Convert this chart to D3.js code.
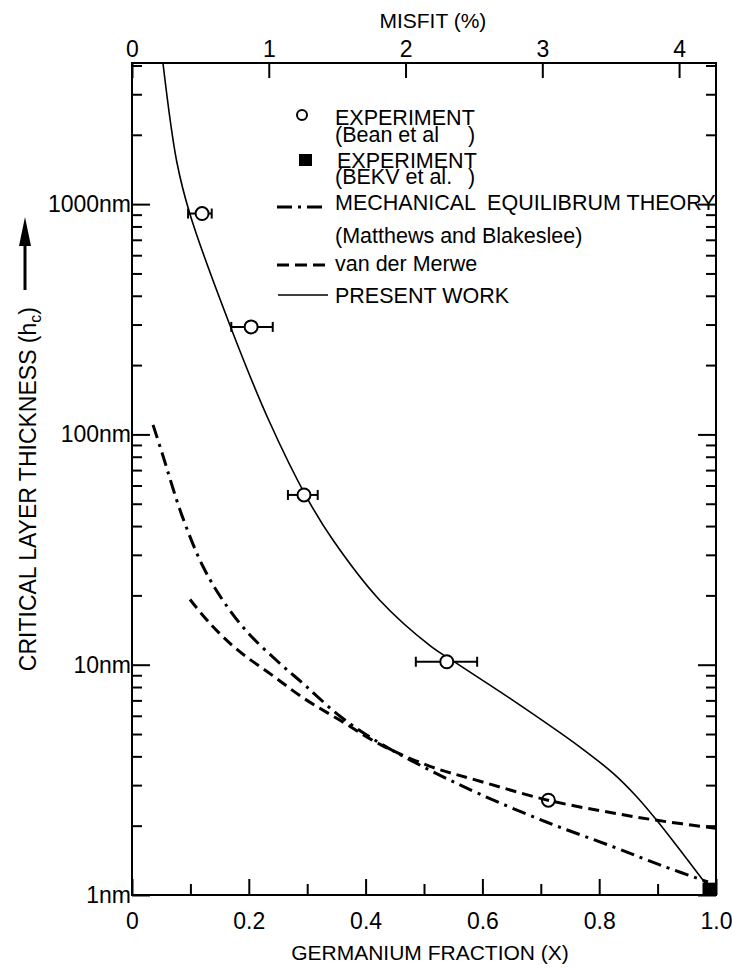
<!DOCTYPE html>
<html>
<head>
<meta charset="utf-8">
<script src="https://cdn.jsdelivr.net/npm/d3@7"></script>
<style>
  body { margin: 0; background: #fff; }
  svg text { font-family: "Liberation Sans", Arial, sans-serif; fill: #000; }
</style>
</head>
<body>
<div id="chart"></div>
<script>
/* CONSTANTS AND GLOBALS */
const width = 732,
  height = 969,
  margin = { top: 63, bottom: 74, left: 132, right: 16 };

/* DATA */
// axis ticks
const xTickValues = [0, 0.2, 0.4, 0.6, 0.8, 1.0];
const xTickLabels = ["0", "0.2", "0.4", "0.6", "0.8", "1.0"];
const xMinorTicks = [0.1, 0.3, 0.5, 0.7, 0.9];
const misfitTicks = [0, 1, 2, 3, 4];
const yTickValues = [1, 10, 100, 1000];
const yTickLabels = ["1nm", "10nm", "100nm", "1000nm"];

// present work (solid line)
const presentX = [0.053, 0.0765, 0.0993, 0.1695, 0.2346, 0.2991, 0.3447, 0.4247, 0.5103, 0.556, 0.6524, 0.7671, 0.8236, 0.8642, 0.8985, 0.9384, 0.9863];
const presentY = [4100, 1535, 904, 290, 114.6, 53.3, 34.6, 19.0, 12.1, 10.13, 7.0, 4.39, 3.38, 2.67, 2.11, 1.567, 1.086];

// mechanical equilibrium theory, Matthews and Blakeslee (dash-dot)
const matthewsX = [0.036, 0.0514, 0.0856, 0.1216, 0.1558, 0.1969, 0.25, 0.2945, 0.3562, 0.4247, 0.5103, 0.5959, 0.7106, 0.8236, 0.9092, 0.9863];
const matthewsY = [110, 83.2, 44.4, 26.7, 19.0, 13.9, 10.3, 8.22, 5.97, 4.56, 3.48, 2.74, 2.07, 1.62, 1.336, 1.139];

// van der Merwe (dashed)
const merweX = [0.0993, 0.1336, 0.1798, 0.238, 0.2945, 0.3562, 0.4247, 0.5103, 0.5959, 0.7123, 0.8236, 0.899, 1.0];
const merweY = [19.19, 15.1, 11.65, 9.08, 7.14, 5.74, 4.51, 3.62, 3.12, 2.58, 2.27, 2.11, 1.95];

// experiment (Bean et al) with x error bars
const beanX = [0.120, 0.204, 0.2945, 0.539, 0.713];
const beanY = [910, 293, 54.6, 10.3, 2.58];
const beanXLow = [0.096, 0.170, 0.267, 0.486, null];
const beanXHigh = [0.1365, 0.241, 0.318, 0.591, null];

// experiment (BEKV et al.)
const bekvX = [0.988];
const bekvY = [1.06];

/* SCALES */
const xScale = d3.scaleLinear().domain([0, 1]).range([margin.left, width - margin.right]);
const yScale = d3.scaleLog().domain([1, 4100]).range([height - margin.bottom, margin.top]);
const misfitScale = d3.scaleLinear().domain([0, 4.27]).range([margin.left, width - margin.right]);

const yMinorTicks = [];
[1, 10, 100, 1000].forEach(dec => {
  for (let k = 2; k <= 9; k++) if (dec * k <= 4100) yMinorTicks.push(dec * k);
});

const svg = d3.select("#chart")
  .append("svg")
  .attr("width", width)
  .attr("height", height);

/* AXES */
const fontTick = "23px";
const fontTitle = "21px";

// bottom
svg.append("g")
  .attr("transform", `translate(0,${height - margin.bottom})`)
  .call(d3.axisBottom(xScale).tickValues(xTickValues).tickSize(-16).tickPadding(18)
    .tickFormat((d, i) => xTickLabels[i]))
  .call(g => g.select(".domain").remove())
  .call(g => g.selectAll("text").style("font-size", fontTick));
svg.append("g")
  .attr("transform", `translate(0,${height - margin.bottom})`)
  .call(d3.axisBottom(xScale).tickValues(xMinorTicks).tickSize(-11).tickFormat(""))
  .call(g => g.select(".domain").remove());

// top (misfit)
svg.append("g")
  .attr("transform", `translate(0,${margin.top})`)
  .call(d3.axisTop(misfitScale).tickValues(misfitTicks).tickSize(-15).tickPadding(6)
    .tickFormat(d3.format("d")))
  .call(g => g.select(".domain").remove())
  .call(g => g.selectAll("text").style("font-size", fontTick));

// left
svg.append("g")
  .attr("transform", `translate(${margin.left},0)`)
  .call(d3.axisLeft(yScale).tickValues(yTickValues).tickSize(-18).tickPadding(1)
    .tickFormat((d, i) => yTickLabels[i]))
  .call(g => g.select(".domain").remove())
  .call(g => g.selectAll("text").style("font-size", fontTick));
svg.append("g")
  .attr("transform", `translate(${margin.left},0)`)
  .call(d3.axisLeft(yScale).tickValues(yMinorTicks).tickSize(-10).tickFormat(""))
  .call(g => g.select(".domain").remove());

// right
svg.append("g")
  .attr("transform", `translate(${width - margin.right},0)`)
  .call(d3.axisRight(yScale).tickValues(yTickValues).tickSize(-18).tickFormat(""))
  .call(g => g.select(".domain").remove());
svg.append("g")
  .attr("transform", `translate(${width - margin.right},0)`)
  .call(d3.axisRight(yScale).tickValues(yMinorTicks).tickSize(-10).tickFormat(""))
  .call(g => g.select(".domain").remove());

svg.selectAll(".tick line").attr("stroke", "#000").attr("stroke-width", 2);

// frame
svg.append("rect")
  .attr("x", margin.left)
  .attr("y", margin.top)
  .attr("width", width - margin.left - margin.right)
  .attr("height", height - margin.top - margin.bottom)
  .attr("fill", "none")
  .attr("stroke", "#000")
  .attr("stroke-width", 2);

// axis titles
svg.append("text")
  .attr("x", misfitScale(2.2))
  .attr("y", 28)
  .attr("text-anchor", "middle")
  .style("font-size", fontTitle)
  .text("MISFIT (%)");

svg.append("text")
  .attr("x", xScale(0.5) + 6)
  .attr("y", 960)
  .attr("text-anchor", "middle")
  .style("font-size", fontTitle)
  .text("GERMANIUM FRACTION (X)");

const yTitle = svg.append("text")
  .attr("transform", "translate(36,307) rotate(-90)")
  .attr("text-anchor", "end")
  .style("font-size", "23px");
yTitle.append("tspan").text("CRITICAL LAYER THICKNESS (h");
yTitle.append("tspan").attr("dy", 5).style("font-size", "16px").text("c");
yTitle.append("tspan").attr("dy", -5).text(")");

// arrow next to y title
svg.append("line")
  .attr("x1", 25).attr("x2", 25)
  .attr("y1", 290).attr("y2", 240)
  .attr("stroke", "#000").attr("stroke-width", 3);
svg.append("path")
  .attr("d", "M25,217 L19,246 L31,246 Z")
  .attr("fill", "#000");

/* CURVES */
svg.append("clipPath").attr("id", "plot-clip")
  .append("rect")
  .attr("x", margin.left).attr("y", margin.top)
  .attr("width", width - margin.left - margin.right)
  .attr("height", height - margin.top - margin.bottom);

const line = d3.line()
  .x(d => xScale(d[0]))
  .y(d => yScale(d[1]))
  .curve(d3.curveCatmullRom.alpha(0.5));

const plot = svg.append("g").attr("clip-path", "url(#plot-clip)");

plot.append("path")
  .attr("d", line(d3.zip(presentX, presentY)))
  .attr("fill", "none")
  .attr("stroke", "#000")
  .attr("stroke-width", 1.6);

// error bars
const bars = plot.selectAll("g.err")
  .data(d3.range(beanX.length).filter(i => beanXLow[i] !== null))
  .join("g")
  .attr("class", "err")
  .attr("stroke", "#000")
  .attr("stroke-width", 2);
bars.append("line")
  .attr("x1", i => xScale(beanXLow[i])).attr("x2", i => xScale(beanXHigh[i]))
  .attr("y1", i => yScale(beanY[i])).attr("y2", i => yScale(beanY[i]));
bars.append("line")
  .attr("x1", i => xScale(beanXLow[i])).attr("x2", i => xScale(beanXLow[i]))
  .attr("y1", i => yScale(beanY[i]) - 5).attr("y2", i => yScale(beanY[i]) + 5);
bars.append("line")
  .attr("x1", i => xScale(beanXHigh[i])).attr("x2", i => xScale(beanXHigh[i]))
  .attr("y1", i => yScale(beanY[i]) - 5).attr("y2", i => yScale(beanY[i]) + 5);

plot.selectAll("circle.bean")
  .data(d3.zip(beanX, beanY))
  .join("circle")
  .attr("class", "bean")
  .attr("cx", d => xScale(d[0]))
  .attr("cy", d => yScale(d[1]))
  .attr("r", 6.5)
  .attr("fill", "#fff")
  .attr("stroke", "#000")
  .attr("stroke-width", 2);

plot.append("path")
  .attr("d", line(d3.zip(matthewsX, matthewsY)))
  .attr("fill", "none")
  .attr("stroke", "#000")
  .attr("stroke-width", 3)
  .attr("stroke-dasharray", "14,6,3,6");

plot.append("path")
  .attr("d", line(d3.zip(merweX, merweY)))
  .attr("fill", "none")
  .attr("stroke", "#000")
  .attr("stroke-width", 3)
  .attr("stroke-dasharray", "11,6");

svg.selectAll("rect.bekv")
  .data(d3.zip(bekvX, bekvY))
  .join("rect")
  .attr("class", "bekv")
  .attr("x", d => xScale(d[0]) - 6.5)
  .attr("y", d => yScale(d[1]) - 6.5)
  .attr("width", 13)
  .attr("height", 13)
  .attr("fill", "#000");

/* LEGEND */
const lg = svg.append("g").style("font-size", "21.5px");
const textX = 335;

lg.append("circle")
  .attr("cx", 302).attr("cy", 115).attr("r", 5)
  .attr("fill", "#fff").attr("stroke", "#000").attr("stroke-width", 2);
lg.append("text").attr("x", textX).attr("y", 125).text("EXPERIMENT");
lg.append("text").attr("x", textX).attr("y", 142).text("(Bean et al");
lg.append("text").attr("x", 468).attr("y", 142).text(")");

lg.append("rect")
  .attr("x", 299).attr("y", 154).attr("width", 13).attr("height", 12)
  .attr("fill", "#000");
lg.append("text").attr("x", textX + 2).attr("y", 168).text("EXPERIMENT");
lg.append("text").attr("x", textX).attr("y", 184).text("(BEKV et al.");
lg.append("text").attr("x", 468).attr("y", 184).text(")");

lg.append("line")
  .attr("x1", 277).attr("x2", 323).attr("y1", 207).attr("y2", 207)
  .attr("stroke", "#000").attr("stroke-width", 3)
  .attr("stroke-dasharray", "15,6,3,6");
lg.append("text").attr("x", textX).attr("y", 210)
  .attr("xml:space", "preserve")
  .style("white-space", "pre")
  .text("MECHANICAL  EQUILIBRUM THEORY");
lg.append("text").attr("x", textX).attr("y", 243).text("(Matthews and Blakeslee)");

lg.append("line")
  .attr("x1", 277).attr("x2", 327).attr("y1", 265).attr("y2", 265)
  .attr("stroke", "#000").attr("stroke-width", 3)
  .attr("stroke-dasharray", "12,6");
lg.append("text").attr("x", textX).attr("y", 271).text("van der Merwe");

lg.append("line")
  .attr("x1", 278).attr("x2", 328).attr("y1", 295).attr("y2", 295)
  .attr("stroke", "#000").attr("stroke-width", 1.6);
lg.append("text").attr("x", textX).attr("y", 303).text("PRESENT WORK");
</script>
</body>
</html>
